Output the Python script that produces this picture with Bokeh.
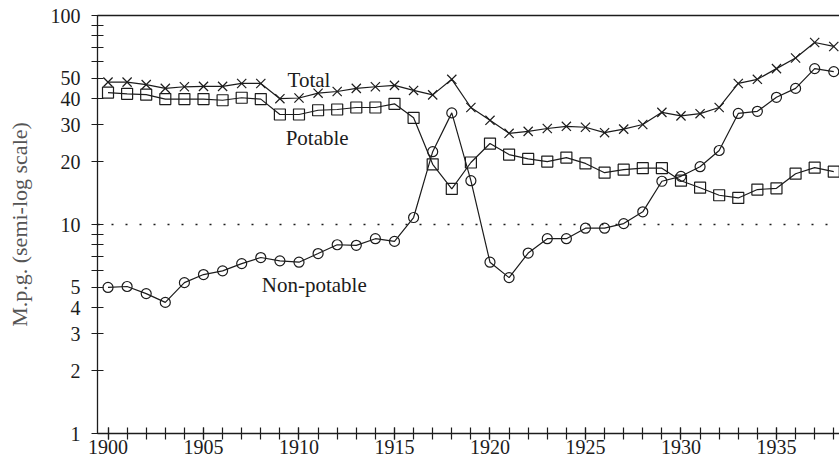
from bokeh.plotting import figure
from bokeh.models import (FixedTicker, NumeralTickFormatter, Span, Label,
                          LinearAxis, ColumnDataSource)
from bokeh.embed import file_html
from bokeh.resources import INLINE

years = list(range(1900, 1939))
total = [48.0, 48.0, 46.7, 44.8, 45.6, 45.8, 45.8, 47.3, 47.3, 40.0,
         40.3, 42.5, 43.3, 44.8, 45.6, 46.3, 43.8, 41.7, 49.5, 36.3,
         31.5, 27.3, 27.9, 28.8, 29.5, 29.2, 27.5, 28.6, 30.1, 34.4,
         33.1, 33.9, 36.3, 47.3, 49.5, 55.7, 62.6, 74.3, 71.1]
potable = [42.8, 42.2, 41.8, 39.8, 39.8, 39.8, 39.3, 40.4, 39.8, 33.6,
           33.6, 35.2, 35.5, 36.3, 36.3, 37.8, 32.4, 19.4, 14.8, 19.8,
           24.4, 21.6, 20.6, 20.0, 20.9, 19.6, 17.7, 18.3, 18.6, 18.6,
           16.2, 15.0, 13.8, 13.4, 14.7, 14.9, 17.5, 18.7, 17.9]
non_potable = [5.0, 5.05, 4.67, 4.24, 5.27, 5.76, 6.0, 6.5, 6.95, 6.7,
               6.6, 7.26, 8.0, 7.95, 8.55, 8.3, 10.8, 22.3, 34.2, 16.2,
               6.6, 5.57, 7.3, 8.55, 8.55, 9.6, 9.6, 10.1, 11.5, 16.1,
               17.0, 18.9, 22.6, 34.0, 34.8, 40.6, 44.8, 55.7, 53.9]

x_major = [1900, 1905, 1910, 1915, 1920, 1925, 1930, 1935]
y_major = [1, 2, 3, 4, 5, 10, 20, 30, 40, 50, 100]
y_minor = [6, 7, 8, 9, 60, 70, 80, 90]

FONT = "Liberation Serif"
INK = "#1c1c1c"

p = figure(width=839, height=464, output_backend="svg", toolbar_location=None,
           y_axis_type="log", x_range=(1899.45, 1938.3), y_range=(1, 100),
           min_border_left=97, min_border_top=15, min_border_right=0,
           min_border_bottom=31)
p.outline_line_color = None
p.xgrid.visible = False
p.ygrid.visible = False
p.background_fill_color = "white"
p.border_fill_color = "white"

src = ColumnDataSource(dict(year=years, total=total, potable=potable,
                            non_potable=non_potable))

p.line("year", "total", source=src, line_color=INK, line_width=1.2)
p.scatter("year", "total", source=src, marker="x", size=13,
          line_color=INK, line_width=1.2)
p.line("year", "potable", source=src, line_color=INK, line_width=1.2)
p.scatter("year", "potable", source=src, marker="square", size=11,
          line_color=INK, fill_alpha=0, line_width=1.2)
p.line("year", "non_potable", source=src, line_color=INK, line_width=1.2)
p.scatter("year", "non_potable", source=src, marker="circle", size=10,
          line_color=INK, fill_alpha=0, line_width=1.2)

p.add_layout(Span(location=10, dimension="width", line_color=INK,
                  line_width=1.3, line_dash="2 12"))

# axes
p.xaxis.ticker = FixedTicker(ticks=x_major, minor_ticks=years)
p.yaxis.ticker = FixedTicker(ticks=y_major, minor_ticks=y_minor)
p.yaxis.formatter = NumeralTickFormatter(format="0")
for ax in (p.xaxis[0], p.yaxis[0]):
    ax.axis_line_color = INK
    ax.axis_line_width = 1.3
    ax.major_tick_line_color = INK
    ax.minor_tick_line_color = INK
    ax.major_tick_in = 6
    ax.major_tick_out = 6
    ax.minor_tick_in = 6
    ax.minor_tick_out = 6
    ax.major_tick_line_width = 1.2
    ax.minor_tick_line_width = 1.2
    ax.major_label_text_font = FONT
    ax.major_label_text_font_size = "20px"
    ax.major_label_text_color = INK
p.xaxis.major_label_standoff = 0
p.yaxis.major_label_standoff = 11
p.yaxis.axis_label = "M.p.g. (semi-log scale)"
p.yaxis.axis_label_text_font = FONT
p.yaxis.axis_label_text_font_size = "22px"
p.yaxis.axis_label_text_font_style = "normal"
p.yaxis.axis_label_text_color = "#555555"
p.yaxis.axis_label_standoff = 16

top = LinearAxis(ticker=FixedTicker(ticks=[]), axis_line_color=INK,
                 axis_line_width=1.3, major_tick_in=0, major_tick_out=0,
                 major_tick_line_color=None, minor_tick_line_color=None,
                 minor_tick_in=0, minor_tick_out=0,
                 major_label_text_font_size="0px")
p.add_layout(top, "above")

for txt, xx, yy in [("Total", 1909.4, 48.9), ("Potable", 1909.3, 25.8),
                    ("Non-potable", 1908.05, 5.11)]:
    p.add_layout(Label(x=xx, y=yy, text=txt, text_font=FONT,
                       text_font_size="21px", text_color=INK,
                       text_baseline="alphabetic"))

open("out.html", "w").write(file_html(p, INLINE))
